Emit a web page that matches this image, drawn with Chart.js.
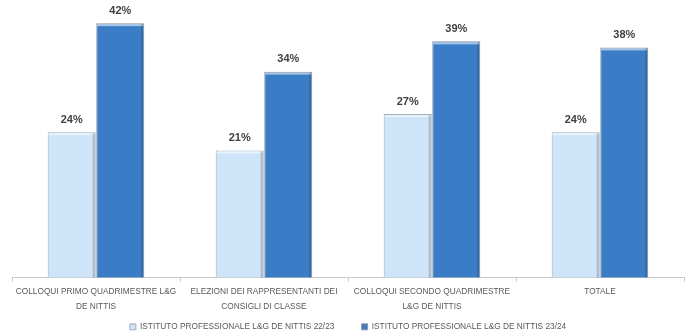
<!DOCTYPE html>
<html>
<head>
<meta charset="utf-8">
<script src="https://cdn.jsdelivr.net/npm/chart.js@4"></script>
<style>
  html, body { margin: 0; padding: 0; background: #fff; }
  #wrap { width: 692px; height: 334px; }
</style>
</head>
<body>
<div id="wrap"><canvas id="chart" width="692" height="334"></canvas></div>
<script>
// Chart data
const categories = [
  ['COLLOQUI PRIMO QUADRIMESTRE L&G', 'DE NITTIS'],
  ['ELEZIONI DEI RAPPRESENTANTI DEI', 'CONSIGLI DI CLASSE'],
  ['COLLOQUI SECONDO QUADRIMESTRE', 'L&G DE NITTIS'],
  'TOTALE'
];
const seriesNames = [
  'ISTITUTO PROFESSIONALE L&G DE NITTIS 22/23',
  'ISTITUTO PROFESSIONALE L&G DE NITTIS 23/24'
];
const values2223 = [24, 21, 27, 24];
const values2324 = [42, 34, 39, 38];

const FONT = "'Liberation Sans', Arial, sans-serif";

// percentages above the bars + a light bevel on each bar
const barExtras = {
  id: 'barExtras',
  afterDatasetsDraw(chart) {
    const ctx = chart.ctx;
    ctx.save();
    chart.data.datasets.forEach((ds, i) => {
      chart.getDatasetMeta(i).data.forEach(bar => {
        const left = bar.x - bar.width / 2;
        const right = bar.x + bar.width / 2;
        const h = bar.base - bar.y;
        // top highlight
        ctx.fillStyle = 'rgba(255,255,255,0.55)';
        ctx.fillRect(left + 1, bar.y + 1, bar.width - 2, 2);
        // right shade
        ctx.fillStyle = 'rgba(40,50,70,0.25)';
        ctx.fillRect(right - 3, bar.y + 1, 2, h - 1);
      });
    });
    ctx.font = 'bold 11px ' + FONT;
    ctx.fillStyle = '#404040';
    ctx.textAlign = 'center';
    ctx.textBaseline = 'bottom';
    chart.data.datasets.forEach((ds, i) => {
      chart.getDatasetMeta(i).data.forEach((bar, j) => {
        ctx.fillText(ds.data[j] + '%', bar.x, bar.y - 7);
      });
    });
    ctx.restore();
  }
};

new Chart(document.getElementById('chart'), {
  type: 'bar',
  data: {
    labels: categories,
    datasets: [
      {
        label: seriesNames[0],
        data: values2223,
        backgroundColor: '#cde4f9',
        borderColor: '#a4afbb',
        borderWidth: 1,
        categoryPercentage: 0.578,
        barPercentage: 0.99
      },
      {
        label: seriesNames[1],
        data: values2324,
        backgroundColor: '#3a7cc5',
        borderColor: '#8a96a3',
        borderWidth: 1,
        categoryPercentage: 0.578,
        barPercentage: 0.99
      }
    ]
  },
  options: {
    responsive: false,
    animation: false,
    layout: { padding: { top: 5, left: 12, right: 8, bottom: -7 } },
    plugins: {
      legend: {
        position: 'bottom',
        labels: {
          font: { family: FONT, size: 8.3 },
          color: '#595959',
          boxWidth: 6,
          boxHeight: 6,
          padding: 6,
          generateLabels(chart) {
            const items = Chart.defaults.plugins.legend.labels.generateLabels(chart);
            items[0].text = items[0].text + '  \u2003\u2003';
            return items;
          }
        }
      },
      tooltip: { enabled: false }
    },
    scales: {
      x: {
        grid: {
          drawOnChartArea: false,
          color: '#c8c8c8',
          tickLength: 4
        },
        border: { color: '#c8c8c8' },
        ticks: {
          font: { family: FONT, size: 8.3, lineHeight: 1.75 },
          color: '#595959',
          maxRotation: 0,
          autoSkip: false,
          padding: 3
        }
      },
      y: {
        display: false,
        min: 0,
        max: 45
      }
    }
  },
  plugins: [barExtras]
});
</script>
</body>
</html>
